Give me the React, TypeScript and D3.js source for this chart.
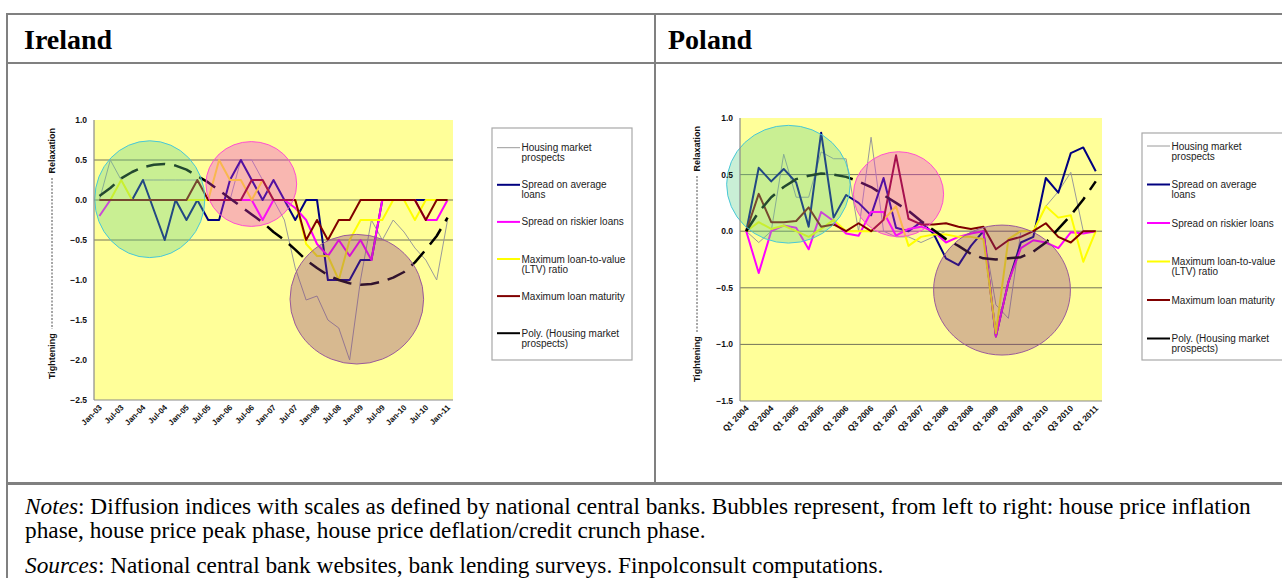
import React from "react";
import * as d3 from "d3";

// ---------------- Ireland (quarterly, 33 observations) ----------------
const irTickLabels = ["Jan-03","Jul-03","Jan-04","Jul-04","Jan-05","Jul-05","Jan-06","Jul-06","Jan-07","Jul-07","Jan-08","Jul-08","Jan-09","Jul-09","Jan-10","Jul-10","Jan-11"];
const irHousing = [0, 0.5, 0.25, 0, 0.25, 0.25, 0.25, 0.25, 0.25, 0.25, 0, 0, 0, 0.5, 0.5, 0.25, 0, -0.25, -0.85, -1.25, -1.2, -1.5, -1.6, -2.0, -1.0, -0.25, -0.5, -0.25, -0.4, -0.6, -0.75, -1.0, -0.25];
const irSpreadAvg = [0, 0, 0, 0, 0.25, -0.125, -0.5, 0, -0.25, 0, -0.25, -0.25, 0.25, 0.5, 0.25, 0, 0.25, 0, -0.25, 0, 0, -1, -1, -1, -0.75, -0.75, 0, 0, 0, 0, 0, 0, 0];
const irSpreadRisky = [-0.2, 0, 0, 0, 0, 0, 0, 0, 0, 0, 0, 0, 0, 0, 0, -0.25, 0, 0, -0.1, -0.25, -0.55, -0.7, -0.5, -0.7, -0.5, -0.75, 0, 0, 0, 0, -0.25, -0.25, 0];
const irLtv = [0, 0, 0.25, 0, 0, 0, 0, 0, 0, 0, 0, 0.5, 0.25, 0.25, 0, 0.25, 0, 0, 0, -0.55, -0.7, -0.7, -1.0, -0.5, -0.25, -0.25, -0.25, 0, 0, -0.25, 0, 0, 0];
const irMaturity = [0, 0, 0, 0, 0, 0, 0, 0, 0, 0.25, 0, 0, 0, 0, 0.25, 0.25, 0, 0, 0, -0.5, -0.25, -0.5, -0.25, -0.25, 0, 0, 0, 0, 0, 0, -0.25, 0, 0];
const irTrend = [0.05, 0.15, 0.27, 0.35, 0.41, 0.44, 0.45, 0.43, 0.38, 0.3, 0.22, 0.12, 0.02, -0.08, -0.18, -0.28, -0.4, -0.5, -0.62, -0.75, -0.85, -0.94, -1.0, -1.04, -1.06, -1.05, -1.02, -0.97, -0.9, -0.78, -0.62, -0.45, -0.22];
const irYTicks = [1.0, 0.5, 0.0, -0.5, -1.0, -1.5, -2.0, -2.5];
const irGrid = [0.5, 0, -0.5];

// ---------------- Poland (quarterly, 29 observations) ----------------
const plTickLabels = ["Q1 2004","Q3 2004","Q1 2005","Q3 2005","Q1 2006","Q3 2006","Q1 2007","Q3 2007","Q1 2008","Q3 2008","Q1 2009","Q3 2009","Q1 2010","Q3 2010","Q1 2011"];
const plHousing = [0, -0.1, 0.0, 0.68, 0.3, 0.3, 0.7, 0.64, 0.64, 0.0, 0.83, 0.0, -0.05, -0.05, -0.1, -0.05, 0.0, 0.0, 0.0, 0.0, -0.65, -0.77, 0.0, 0.0, 0.22, 0.35, 0.52, 0.0, 0.0];
const plSpreadAvg = [0, 0.56, 0.44, 0.55, 0.43, 0.04, 0.87, 0.12, 0.32, 0.25, 0.14, 0.47, 0.03, 0.0, 0.08, -0.02, -0.24, -0.3, -0.13, 0.0, -0.93, -0.45, -0.1, -0.05, 0.47, 0.34, 0.69, 0.74, 0.53];
const plSpreadRisky = [0, -0.37, 0.0, 0.05, 0.03, -0.16, 0.17, 0.09, -0.02, -0.04, 0.17, 0.17, -0.04, 0.02, 0.04, 0.0, -0.1, -0.05, -0.02, 0.0, -0.93, -0.45, -0.15, -0.08, -0.1, -0.15, -0.01, -0.02, 0];
const plLtv = [0, 0.08, 0.02, 0.05, 0.0, -0.05, 0.02, 0.1, 0.0, 0.0, 0.0, 0.1, 0.22, -0.13, -0.05, -0.03, -0.03, -0.05, -0.05, -0.07, -0.9, -0.07, 0.0, 0.0, 0.22, 0.12, 0.14, -0.27, 0.0];
const plMaturity = [0, 0.33, 0.08, 0.08, 0.09, 0.21, 0.04, 0.06, 0.0, 0.07, 0.0, 0.1, 0.67, 0.11, 0.06, 0.06, 0.07, 0.04, 0.02, 0.04, -0.16, -0.08, -0.05, 0.0, 0.07, -0.05, -0.1, 0.0, 0.0];
const plTrend = [0.0, 0.17, 0.3, 0.39, 0.46, 0.49, 0.51, 0.5, 0.48, 0.44, 0.39, 0.32, 0.25, 0.18, 0.09, 0.01, -0.07, -0.13, -0.2, -0.24, -0.25, -0.24, -0.23, -0.18, -0.1, 0.02, 0.14, 0.28, 0.44];
const plYTicks = [1.0, 0.5, 0.0, -0.5, -1.0, -1.5];
const plGrid = [0.5, 0, -0.5, -1.0];

// ---------------- shared text ----------------
const seriesNames = ["Housing market prospects", "Spread on average loans", "Spread on riskier loans", "Maximum loan-to-value (LTV) ratio", "Maximum loan maturity", "Poly. (Housing market prospects)"];
const legendLines = [["Housing market", "prospects"], ["Spread on average", "loans"], ["Spread on riskier loans"], ["Maximum loan-to-value", "(LTV) ratio"], ["Maximum loan maturity"], ["Poly. (Housing market", "prospects)"]];

const seriesStyle = [
  { color: "#9a9a9a", width: 1, dash: "" },
  { color: "#000080", width: 2, dash: "" },
  { color: "#ff00ff", width: 2, dash: "" },
  { color: "#ffff00", width: 2, dash: "" },
  { color: "#800000", width: 2, dash: "" },
  { color: "#000000", width: 2.5, dash: "19,9" },
];

const bubbleStyle = [
  { fill: "#64d08a", stroke: "#48c8d8" },
  { fill: "#ee30e0", stroke: "#ff50d0" },
  { fill: "#8d3782", stroke: "#9a5a9a" },
];

const SANS = "'Liberation Sans', Arial, sans-serif";
const SERIF = "'Liberation Serif', 'Times New Roman', serif";

type PanelCfg = {
  series: number[][];
  tickLabels: string[];
  yTicks: number[];
  grid: number[];
  plot: { x0: number; x1: number; y0: number; y1: number };
  bubbles: { cx: number; cy: number; rx: number; ry: number }[];
  legend: { x: number; y: number; w: number; h: number; first: number; gap: number };
  titleX: number;
  relaxTop: number;
  tightBottom: number;
  tickFont: number;
  xLabelFont: number;
};

const ireland: PanelCfg = {
  series: [irHousing, irSpreadAvg, irSpreadRisky, irLtv, irMaturity, irTrend],
  tickLabels: irTickLabels,
  yTicks: irYTicks,
  grid: irGrid,
  plot: { x0: 94, x1: 453, y0: 120, y1: 400 },
  bubbles: [
    { cx: 4.63, cy: 0.01, rx: 5.06, ry: 0.73 },
    { cx: 13.96, cy: 0.2, rx: 4.17, ry: 0.53 },
    { cx: 23.66, cy: -1.24, rx: 6.14, ry: 0.81 },
  ],
  legend: { x: 492, y: 128, w: 140, h: 232, first: 147.7, gap: 37.1 },
  titleX: 55,
  relaxTop: 128,
  tightBottom: 379,
  tickFont: 8.5,
  xLabelFont: 8,
};

const poland: PanelCfg = {
  series: [plHousing, plSpreadAvg, plSpreadRisky, plLtv, plMaturity, plTrend],
  tickLabels: plTickLabels,
  yTicks: plYTicks,
  grid: plGrid,
  plot: { x0: 740, x1: 1102, y0: 118, y1: 401 },
  bubbles: [
    { cx: 3.38, cy: 0.415, rx: 4.95, ry: 0.52 },
    { cx: 12.2, cy: 0.327, rx: 3.61, ry: 0.375 },
    { cx: 20.49, cy: -0.52, rx: 5.48, ry: 0.574 },
  ],
  legend: { x: 1142, y: 133, w: 160, h: 227, first: 146, gap: 38.5 },
  titleX: 700,
  relaxTop: 126,
  tightBottom: 382,
  tickFont: 8.5,
  xLabelFont: 8.5,
};

function Panel({ cfg }: { cfg: PanelCfg }) {
  const { plot } = cfg;
  const n = cfg.series[0].length;
  const x = d3.scalePoint<number>().domain(d3.range(n)).range([plot.x0, plot.x1]).padding(0.5);
  const yDom = d3.extent(cfg.yTicks) as [number, number];
  const y = d3.scaleLinear().domain(yDom).range([plot.y1, plot.y0]);
  const line = d3.line<number>().x((_, i) => x(i) as number).y((d) => y(d));
  const step = x.step();
  const unit = y(0) - y(1);
  const fmt = d3.format(".1f");
  const tl = cfg.legend;

  return (
    <g>
      <rect x={plot.x0} y={plot.y0} width={plot.x1 - plot.x0} height={plot.y1 - plot.y0} fill="#ffff99" />
      {cfg.grid.map((g) => (
        <line key={g} x1={plot.x0} x2={plot.x1} y1={y(g)} y2={y(g)} stroke="#74745a" strokeWidth={1} />
      ))}
      {cfg.series.map((s, i) => (
        <path key={i} d={line(s) || ""} fill="none" stroke={seriesStyle[i].color} strokeWidth={seriesStyle[i].width}
          strokeDasharray={seriesStyle[i].dash || undefined} strokeLinejoin="round" />
      ))}
      {cfg.bubbles.map((b, i) => (
        <ellipse key={i} cx={(x(0) as number) + b.cx * step} cy={y(b.cy)} rx={b.rx * step} ry={b.ry * unit}
          fill={bubbleStyle[i].fill} fillOpacity={0.35} stroke={bubbleStyle[i].stroke} strokeWidth={1} />
      ))}
      <line x1={plot.x0} x2={plot.x0} y1={plot.y0} y2={plot.y1} stroke="#8a8a8a" strokeWidth={1.2} />
      <line x1={plot.x0} x2={plot.x1} y1={plot.y1} y2={plot.y1} stroke="#8a8a8a" strokeWidth={1.2} />
      {cfg.yTicks.map((t) => (
        <text key={t} x={plot.x0 - 7} y={y(t) + 3} textAnchor="end" fontFamily={SANS} fontWeight="bold"
          fontSize={cfg.tickFont} fill="#111">{fmt(t)}</text>
      ))}
      {cfg.tickLabels.map((lab, k) => {
        const px = (x(k * 2) as number) + 3;
        const py = plot.y1 + 8;
        return (
          <text key={lab} transform={`translate(${px},${py}) rotate(-45)`} textAnchor="end" fontFamily={SANS}
            fontWeight="bold" fontSize={cfg.xLabelFont} fill="#111">{lab}</text>
        );
      })}
      {/* y-axis title */}
      <text transform={`translate(${cfg.titleX},${cfg.relaxTop}) rotate(-90)`} textAnchor="end" fontFamily={SANS}
        fontWeight="bold" fontSize={9} fill="#111">Relaxation</text>
      <text transform={`translate(${cfg.titleX},${cfg.tightBottom}) rotate(-90)`} textAnchor="start" fontFamily={SANS}
        fontWeight="bold" fontSize={9} fill="#111">Tightening</text>
      <line x1={cfg.titleX - 3} x2={cfg.titleX - 3} y1={cfg.relaxTop + 50} y2={cfg.tightBottom - 50}
        stroke="#222" strokeWidth={0.8} strokeDasharray="2,1.5" />
      {/* legend */}
      <rect x={tl.x} y={tl.y} width={tl.w} height={tl.h} fill="#fff" stroke="#a8a8a8" strokeWidth={1.2} />
      {legendLines.map((ls, i) => {
        const ly = tl.first + i * tl.gap;
        const st = seriesStyle[i];
        return (
          <g key={seriesNames[i]}>
            <line x1={tl.x + 5} x2={tl.x + 28} y1={ly} y2={ly} stroke={st.color} strokeWidth={i === 0 ? 1 : 2} />
            {ls.map((t, j) => (
              <text key={j} x={tl.x + 29.5} y={ly + 3.5 + j * 10} fontFamily={SANS} fontSize={10} fill="#222">{t}</text>
            ))}
          </g>
        );
      })}
    </g>
  );
}

export default function App() {
  const border = "#808080";
  return (
    <div style={{ position: "absolute", left: 0, top: 0 }}>
      <svg width={1282} height={578} style={{ display: "block", background: "#fff" }}>
        <Panel cfg={ireland} />
        <Panel cfg={poland} />
        {/* table frame */}
        <line x1={7} x2={1282} y1={14} y2={14} stroke={border} strokeWidth={2} />
        <line x1={7} x2={7} y1={13} y2={578} stroke={border} strokeWidth={2} />
        <line x1={7} x2={1282} y1={63} y2={63} stroke={border} strokeWidth={2} />
        <line x1={655} x2={655} y1={14} y2={483} stroke={border} strokeWidth={2} />
        <line x1={7} x2={1282} y1={483.5} y2={483.5} stroke={border} strokeWidth={3} />
        <text x={24} y={49} fontFamily={SERIF} fontWeight="bold" fontSize={28} fill="#000">Ireland</text>
        <text x={668} y={49} fontFamily={SERIF} fontWeight="bold" fontSize={28} fill="#000">Poland</text>
        <text x={25} y={514} fontFamily={SERIF} fontSize={23.3} fill="#000">
          <tspan fontStyle="italic">Notes</tspan>: Diffusion indices with scales as defined by national central banks. Bubbles represent, from left to right: house price inflation
        </text>
        <text x={25} y={538} fontFamily={SERIF} fontSize={23.3} fill="#000">
          phase, house price peak phase, house price deflation/credit crunch phase.
        </text>
        <text x={25} y={573} fontFamily={SERIF} fontSize={23.3} fill="#000">
          <tspan fontStyle="italic">Sources</tspan>: National central bank websites, bank lending surveys. Finpolconsult computations.
        </text>
      </svg>
    </div>
  );
}
